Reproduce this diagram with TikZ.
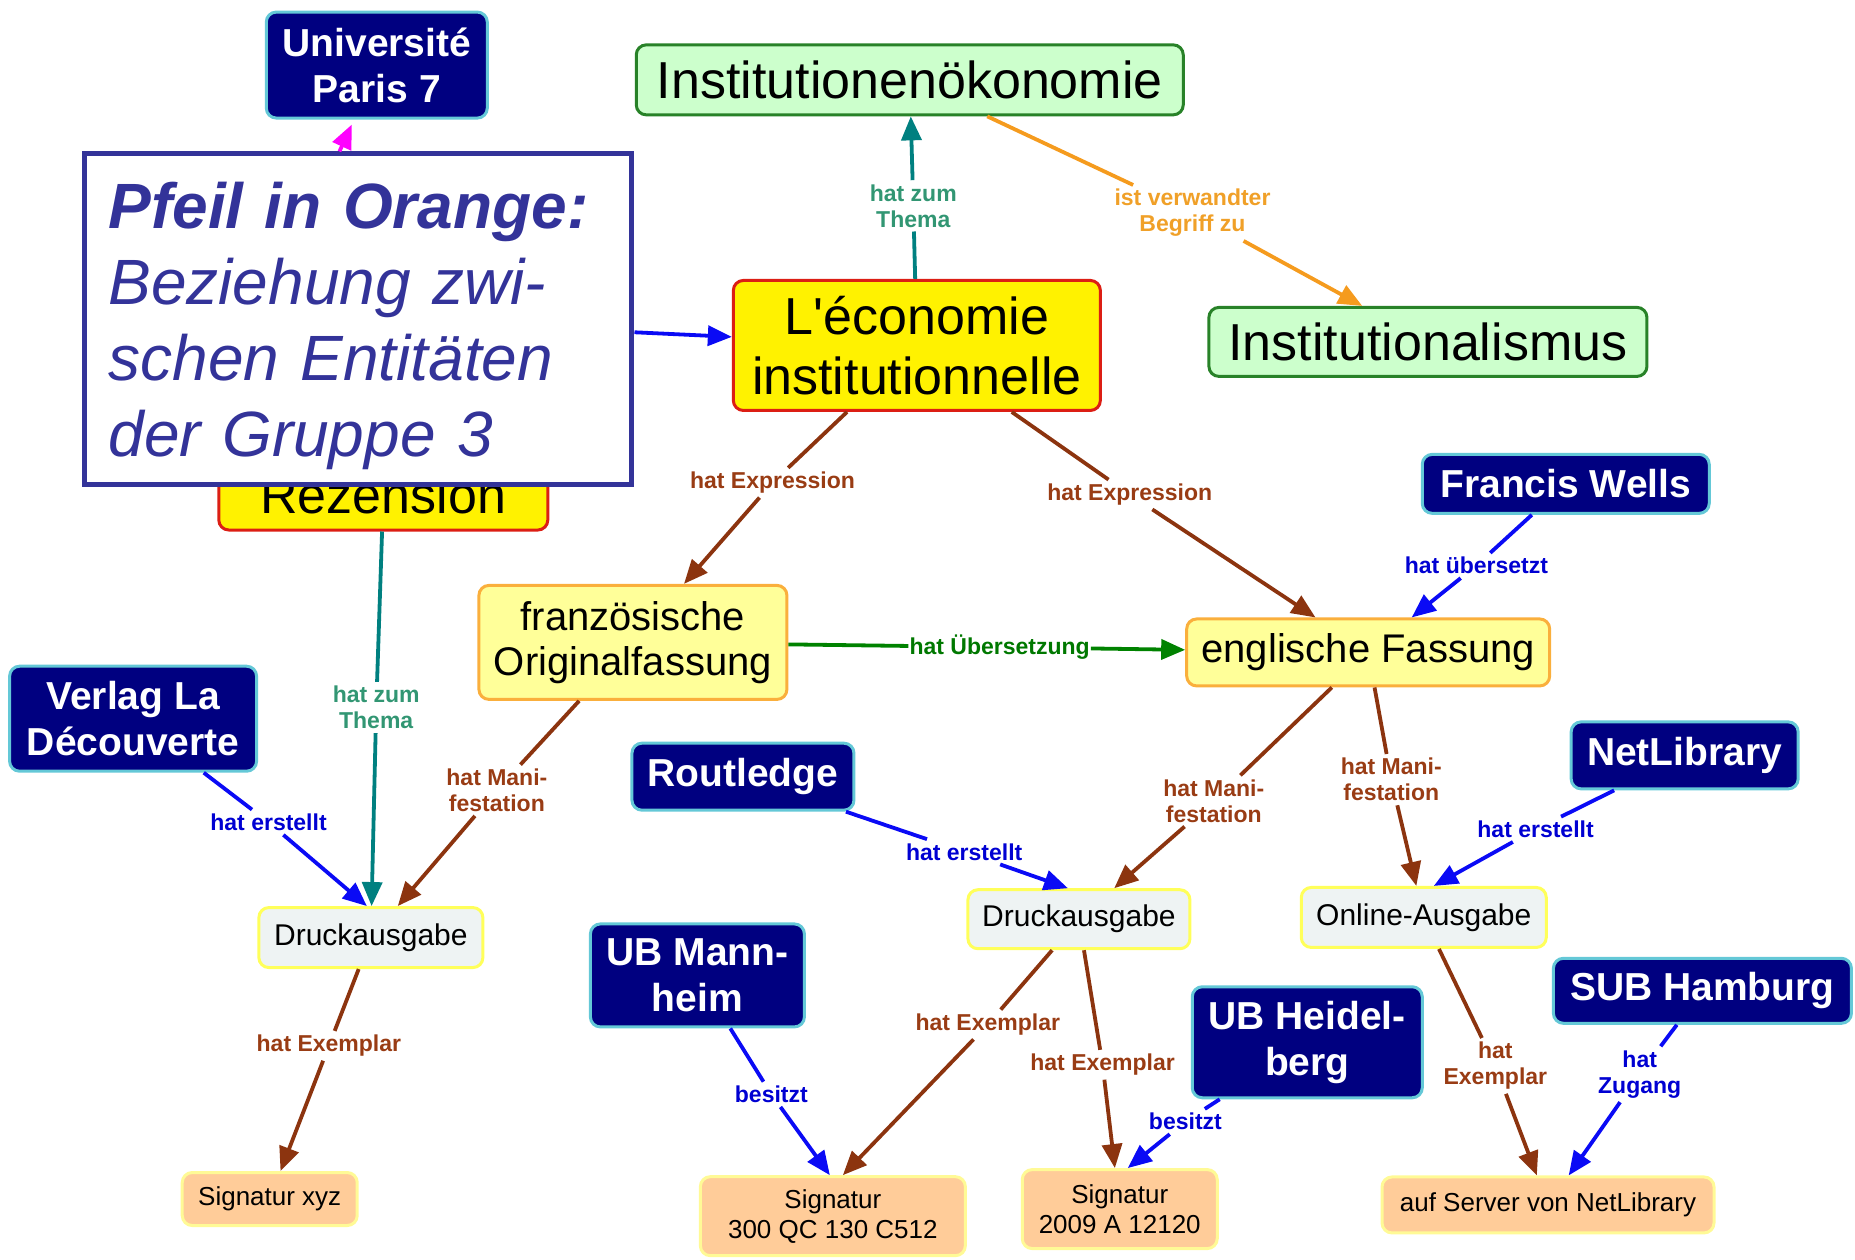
\documentclass[tikz,border=0pt]{standalone}
\usepackage{fontspec}
\setmainfont{Liberation Sans}[Ligatures=TeXOff]
\usetikzlibrary{arrows.meta}

\definecolor{agentfill}{RGB}{0,0,128}
\definecolor{agentline}{RGB}{100,200,215}
\definecolor{workline}{RGB}{220,30,20}
\definecolor{conceptfill}{RGB}{204,255,204}
\definecolor{conceptline}{RGB}{40,130,40}
\definecolor{exprfill}{RGB}{255,255,153}
\definecolor{exprline}{RGB}{250,175,60}
\definecolor{maniffill}{RGB}{238,243,243}
\definecolor{manifline}{RGB}{255,255,90}
\definecolor{itemfill}{RGB}{255,204,153}
\definecolor{itemline}{RGB}{255,250,150}
\definecolor{legendblue}{RGB}{51,51,153}
\definecolor{linkbrown}{RGB}{140,52,15}
\definecolor{linkteal}{RGB}{0,128,128}
\definecolor{linkorange}{RGB}{245,155,30}
\definecolor{linkgreen}{RGB}{0,130,0}
\definecolor{linkblue}{RGB}{10,10,245}
\definecolor{linkmagenta}{RGB}{255,0,255}
\definecolor{txtbrown}{RGB}{153,60,20}
\definecolor{txtteal}{RGB}{50,150,115}
\definecolor{txtorange}{RGB}{240,160,40}
\definecolor{txtgreen}{RGB}{0,120,0}
\definecolor{txtblue}{RGB}{0,0,210}

\begin{document}
\begin{tikzpicture}[
  x=1.183pt, y=-1.183pt,
  box/.style={rectangle, rounded corners=10pt, line width=3pt, align=center, inner sep=2pt},
  agent/.style={box, fill=agentfill, draw=agentline, text=white, font=\fontsize{39}{46}\selectfont\bfseries},
  work/.style={box, fill=yellow, draw=workline, font=\fontsize{52}{60}\selectfont},
  concept/.style={box, fill=conceptfill, draw=conceptline, font=\fontsize{52}{60}\selectfont},
  expr/.style={box, fill=exprfill, draw=exprline, font=\fontsize{40}{45}\selectfont},
  manif/.style={box, fill=maniffill, draw=manifline, font=\fontsize{30}{35}\selectfont},
  exemplar/.style={box, fill=itemfill, draw=itemline, font=\fontsize{26}{30}\selectfont},
  legendbox/.style={rectangle, draw=legendblue, line width=5pt, fill=white, text=legendblue,
    text width=500pt, align=left, inner xsep=23.5pt, minimum height=331pt,
    font=\fontsize{64}{76}\selectfont\itshape},
  lbl/.style={align=center, inner sep=4pt, font=\fontsize{23}{26}\selectfont\bfseries},
  link/.style={line width=3.8pt},
  arrowhead/.style={-{Triangle[length=24pt,width=20pt]}}
]
\useasboundingbox (0,0) rectangle (1568,1065);

% Werk und Begriffe
\node[concept, minimum width=547pt, minimum height=70pt] (oekonomie) at (769,67.5) {Institutionenökonomie};
\node[work, minimum width=367pt, minimum height=130pt] (econ) at (775,292) {L'économie\\institutionnelle};
\node[concept, minimum width=438pt, minimum height=69pt] (instism) at (1207,289) {Institutionalismus};
\node[agent, minimum width=221pt, minimum height=106pt] (paris) at (318.5,55) {Université\\Paris 7};
\node[work, minimum width=329pt, minimum height=71pt] (rezension) at (324,418) {Rezension};

% Legende (liegt ueber der Rezension)
\node[legendbox] (legende) at (303,270)
  {\rule{0pt}{59pt}{\bfseries Pfeil in Orange:}\\Beziehung zwi-\\schen Entitäten\\der Gruppe 3};

% Expressionen
\node[expr, minimum width=308pt, minimum height=114pt] (franz) at (535,543) {französische\\Originalfassung};
\node[expr, minimum width=363pt, minimum height=67pt] (engl) at (1156.5,551.5) {englische Fassung};

% Akteure
\node[agent, minimum width=247pt, minimum height=105pt] (verlag) at (112.5,607.5) {Verlag La\\Découverte};
\node[agent, minimum width=287pt, minimum height=59pt] (wells) at (1323.5,409) {Francis Wells};
\node[agent, minimum width=222pt, minimum height=67pt] (routledge) at (628,656.5) {Routledge};
\node[agent, minimum width=227pt, minimum height=67pt] (netlib) at (1424,638.5) {NetLibrary};
\node[agent, minimum width=214pt, minimum height=103pt] (mannheim) at (589.5,824.5) {UB Mann-\\heim};
\node[agent, minimum width=230pt, minimum height=111pt] (heidelberg) at (1105,881) {UB Heidel-\\berg};
\node[agent, minimum width=298pt, minimum height=65pt] (hamburg) at (1439,837.5) {SUB Hamburg};

% Manifestationen
\node[manif, minimum width=224pt, minimum height=60pt] (druckL) at (313.5,792.5) {Druckausgabe};
\node[manif, minimum width=222pt, minimum height=59pt] (druckM) at (912,777) {Druckausgabe};
\node[manif, minimum width=245pt, minimum height=60pt] (online) at (1203.5,775.5) {Online-Ausgabe};

% Exemplare
\node[exemplar, minimum width=175pt, minimum height=53pt] (sigxyz) at (228,1013.5) {Signatur xyz};
\node[exemplar, minimum width=265pt, minimum height=79pt] (sigqc) at (704,1028) {Signatur\\300 QC 130 C512};
\node[exemplar, minimum width=195pt, minimum height=79pt] (siga) at (946.5,1022) {Signatur\\2009 A 12120};
\node[exemplar, minimum width=332pt, minimum height=56pt] (server) at (1308.5,1018.5) {auf Server von NetLibrary};

% Verbindungswoerter
\node[lbl, text=txtteal] (thema1) at (772,174) {hat zum\\Thema};
\node[lbl, text=txtorange] (verwandt) at (1008,180) {ist verwandter\\Begriff zu};
\node[lbl, text=txtbrown] (expr1) at (653,408) {hat Expression};
\node[lbl, text=txtbrown] (expr2) at (955,418) {hat Expression};
\node[lbl, text=txtgreen, inner xsep=1pt] (uebersetzung) at (845,547) {hat Übersetzung};
\node[lbl, text=txtblue] (uebersetzt) at (1248,478) {hat übersetzt};
\node[lbl, text=txtteal] (thema2) at (318,598) {hat zum\\Thema};
\node[lbl, text=txtblue] (erstellt1) at (227,695) {hat erstellt};
\node[lbl, text=txtbrown] (mani1) at (420,668) {hat Mani-\\festation};
\node[lbl, text=txtbrown] (mani2) at (1026,677) {hat Mani-\\festation};
\node[lbl, text=txtbrown] (mani3) at (1176,659) {hat Mani-\\festation};
\node[lbl, text=txtblue] (erstellt2) at (815,720) {hat erstellt};
\node[lbl, text=txtblue] (erstellt3) at (1298,701) {hat erstellt};
\node[lbl, text=txtbrown] (exemplar1) at (278,884) {hat Exemplar};
\node[lbl, text=txtblue] (besitzt1) at (652,925) {besitzt};
\node[lbl, text=txtbrown] (exemplar2) at (835,866) {hat Exemplar};
\node[lbl, text=txtbrown] (exemplar3) at (932,900) {hat Exemplar};
\node[lbl, text=txtblue] (besitzt2) at (1002,948) {besitzt};
\node[lbl, text=txtbrown] (exemplar4) at (1264,901) {hat\\Exemplar};
\node[lbl, text=txtblue] (zugang) at (1386,908) {hat\\Zugang};

% Pfeile
\draw[link, arrowhead, linkmagenta] ([xshift=-19pt]legende.north) -- ([xshift=-25pt,yshift=-5pt]paris.south);
\draw[link, arrowhead, linkblue] (legende) -- (econ);

\draw[link, linkteal] (econ) -- (thema1);
\draw[link, arrowhead, linkteal] (thema1) -- (oekonomie);
\draw[link, linkorange] (oekonomie) -- (verwandt);
\draw[link, arrowhead, linkorange] (verwandt) -- (instism);

\draw[link, linkbrown] (econ) -- (expr1);
\draw[link, arrowhead, linkbrown] (expr1) -- (franz);
\draw[link, linkbrown] (econ) -- (expr2);
\draw[link, arrowhead, linkbrown] (expr2) -- (engl);
\draw[link, linkgreen] (franz) -- (uebersetzung);
\draw[link, arrowhead, linkgreen] (uebersetzung) -- (engl);
\draw[link, linkblue] (wells) -- (uebersetzt);
\draw[link, arrowhead, linkblue] (uebersetzt) -- (engl);

\draw[link, linkteal] (rezension) -- (thema2);
\draw[link, arrowhead, linkteal] (thema2) -- (druckL);
\draw[link, linkblue] (verlag) -- (erstellt1);
\draw[link, arrowhead, linkblue] (erstellt1) -- ([xshift=-4pt]druckL.north);
\draw[link, linkbrown] (franz) -- (mani1);
\draw[link, arrowhead, linkbrown] (mani1) -- (druckL);

\draw[link, linkbrown] (engl) -- (mani2);
\draw[link, arrowhead, linkbrown] (mani2) -- (druckM);
\draw[link, linkbrown] (engl) -- (mani3);
\draw[link, arrowhead, linkbrown] (mani3) -- (online);
\draw[link, linkblue] (routledge) -- (erstellt2);
\draw[link, arrowhead, linkblue] (erstellt2) -- ([xshift=-11pt]druckM.north);
\draw[link, linkblue] (netlib) -- (erstellt3);
\draw[link, arrowhead, linkblue] (erstellt3) -- ([xshift=10pt]online.north);

\draw[link, linkbrown] (druckL) -- (exemplar1);
\draw[link, arrowhead, linkbrown] (exemplar1) -- (sigxyz);
\draw[link, linkblue] (mannheim) -- (besitzt1);
\draw[link, arrowhead, linkblue] (besitzt1) -- ([xshift=-3pt]sigqc.north);
\draw[link, linkbrown] (druckM) -- (exemplar2);
\draw[link, arrowhead, linkbrown] (exemplar2) -- ([xshift=10pt]sigqc.north);
\draw[link, linkbrown] (druckM) -- (exemplar3);
\draw[link, arrowhead, linkbrown] (exemplar3) -- (siga);
\draw[link, linkblue] (heidelberg) -- (besitzt2);
\draw[link, arrowhead, linkblue] (besitzt2) -- ([xshift=8pt]siga.north);
\draw[link, linkbrown] (online) -- (exemplar4);
\draw[link, arrowhead, linkbrown] (exemplar4) -- (server);
\draw[link, linkblue] (hamburg) -- (zugang);
\draw[link, arrowhead, linkblue] (zugang) -- (server);

\end{tikzpicture}
\end{document}
